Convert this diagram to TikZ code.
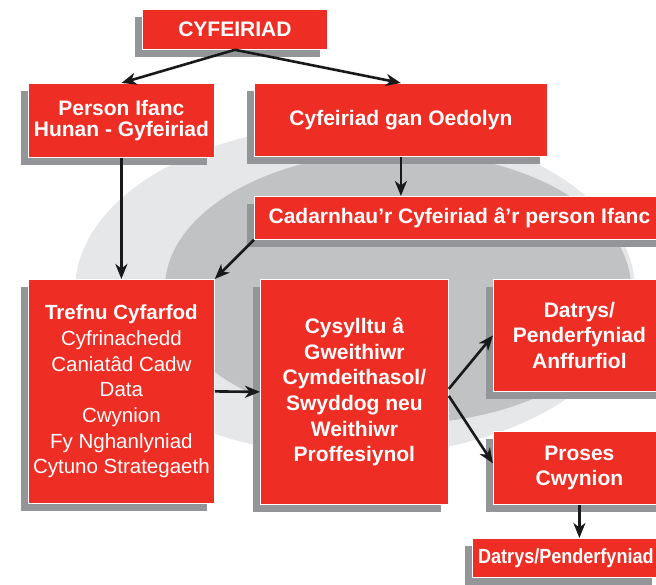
\documentclass[tikz,border=0pt]{standalone}
\usepackage{fontspec}
\setmainfont{Liberation Sans}
\newfontfamily\condfont[FakeStretch=0.88]{Liberation Sans}
\usetikzlibrary{arrows.meta,shadows,calc}
\definecolor{boxred}{HTML}{EE2E24}
\definecolor{shadowgray}{HTML}{939598}
\definecolor{lightbg}{HTML}{E6E7E8}
\definecolor{darkbg}{HTML}{C1C2C4}
\tikzset{
  box/.style={fill=boxred, draw=white, line width=0.8pt, text=white, align=center,
    inner sep=0pt, anchor=north west,
    font=\fontsize{21}{25.7}\selectfont\bfseries,
    drop shadow={shadow xshift=-7pt, shadow yshift=-7.5pt, fill=shadowgray, opacity=1}},
  conn/.style={draw=black!90, line width=2.6pt, -{Stealth[length=15pt,width=12pt,inset=4.5pt]}}
}
\begin{document}
\begin{tikzpicture}[x=1pt,y=-1pt]
\useasboundingbox (0,0) rectangle (656,585);
\clip (0,0) rectangle (656,585);
% background ellipses
\fill[lightbg] (355,290) ellipse [x radius=280pt, y radius=166pt];
\fill[darkbg] (398,288) ellipse [x radius=233pt, y radius=136pt];
% boxes
\node[box, minimum width=185pt, minimum height=40pt] (A) at (142,9) {CYFEIRIAD};
\node[box, minimum width=186pt, minimum height=74pt, font=\fontsize{21}{20.7}\selectfont\bfseries] (B) at (28,83) {Person Ifanc\\Hunan - Gyfeiriad};
\node[box, minimum width=293pt, minimum height=73pt] (C) at (254,83) {Cyfeiriad gan Oedolyn};
\node[box, minimum width=410pt, minimum height=43pt] (D) at (254,196) {Cadarnhau’r Cyfeiriad â’r person Ifanc};
\node[box, minimum width=186pt, minimum height=224pt, font=\fontsize{20.5}{25.7}\selectfont\mdseries] (E) at (28,279)
  {{\bfseries Trefnu Cyfarfod}\\Cyfrinachedd\\Caniatâd Cadw\\Data\\Cwynion\\Fy Nghanlyniad\\Cytuno Strategaeth};
\node[box, minimum width=188pt, minimum height=225pt] (F) at (260,279)
  {Cysylltu â\\Gweithiwr\\Cymdeithasol/\\Swyddog neu\\Weithiwr\\Proffesiynol};
\node[box, minimum width=172pt, minimum height=112pt] (G) at (493,279) {Datrys/\\Penderfyniad\\Anffurfiol};
\node[box, minimum width=172pt, minimum height=73pt] (H) at (493,431) {Proses\\Cwynion};
\node[box, minimum width=187pt, minimum height=39pt, font=\condfont\fontsize{20.5}{25.7}\selectfont\bfseries] (I) at (472,538) {Datrys/Penderfyniad};
% connectors
\draw[conn] (A.south) -- (B.north);
\draw[conn] (A.south) -- (C.north);
\draw[conn] (B.south) -- (E.north);
\draw[conn] (C.south) -- (C.south |- D.north);
\draw[conn] (D.south west) -- (E.north east);
\draw[conn] (E.east) -- (F.west);
\draw[conn] ([yshift=3pt]F.east) -- (G.west);
\draw[conn] ([yshift=-4pt]F.east) -- ([yshift=4.5pt]H.west);
\draw[conn] (H.south) -- (H.south |- I.north);
\end{tikzpicture}
\end{document}
